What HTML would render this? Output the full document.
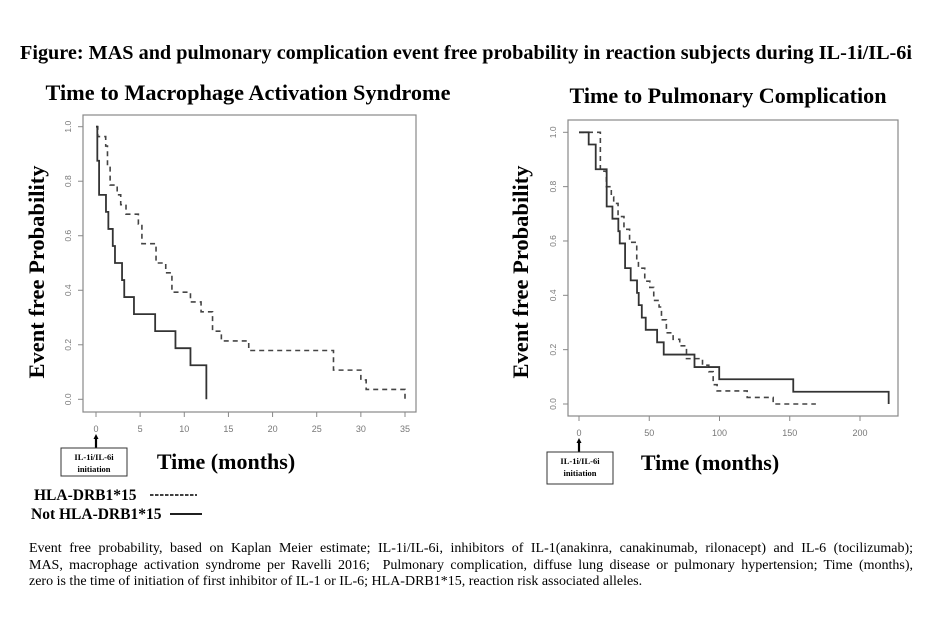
<!DOCTYPE html>
<html><head><meta charset="utf-8"><style>
body{margin:0;background:#fff;}
#wrap{position:relative;width:936px;height:630px;overflow:hidden;background:#fff;font-family:"Liberation Serif",serif;}
#caption{position:absolute;left:29px;top:541px;width:884px;font-size:14px;line-height:16.5px;color:#000;}
#caption .ln{display:block;text-align:justify;text-align-last:justify;white-space:nowrap;}
#caption .last{text-align-last:left;}
</style></head><body>
<div id="wrap">
<svg id="svg" width="936" height="630" style="position:absolute;left:0;top:0">
<text x="466" y="59" text-anchor="middle" font-family="Liberation Serif" font-weight="bold" font-size="20" textLength="892" lengthAdjust="spacingAndGlyphs">Figure: MAS and pulmonary complication event free probability in reaction subjects during IL-1i/IL-6i</text>
</svg>
<div id="caption"><span class="ln">Event free probability, based on Kaplan Meier estimate; IL-1i/IL-6i, inhibitors of IL-1(anakinra, canakinumab, rilonacept) and IL-6 (tocilizumab);</span><span class="ln">MAS, macrophage activation syndrome per Ravelli 2016;&nbsp; Pulmonary complication, diffuse lung disease or pulmonary hypertension; Time (months),</span><span class="ln last">zero is the time of initiation of first inhibitor of IL-1 or IL-6; HLA-DRB1*15, reaction risk associated alleles.</span></div>
</div>
<script>
// MAS chart data
const masSolidT = [0, 0.15, 0.35, 1.13, 1.4, 1.9, 2.15, 2.95, 3.2, 4.3, 6.7, 9.0, 10.7, 12.5];
const masSolidS = [1.0, 0.875, 0.75, 0.6875, 0.625, 0.5625, 0.5, 0.4375, 0.375, 0.3125, 0.25, 0.1875, 0.125, 0];
const masDashT = [0, 0.2, 1.1, 1.3, 1.6, 2.4, 2.8, 3.4, 4.8, 5.2, 6.8, 7.9, 8.6, 10.7, 11.9, 13.2, 14.2, 17.3, 26.9, 30.0, 30.6, 35.0];
const masDashS = [1.0, 0.964, 0.929, 0.857, 0.786, 0.75, 0.714, 0.679, 0.643, 0.571, 0.5, 0.464, 0.393, 0.357, 0.321, 0.25, 0.214, 0.179, 0.107, 0.071, 0.036, 0];
const masXTicks = [0, 5, 10, 15, 20, 25, 30, 35];
// Pulmonary chart data
const pulSolidT = [0, 6.9, 11.9, 19.7, 23.8, 28, 29, 32.8, 36.8, 41.3, 42.5, 44.7, 47.5, 55.6, 60.3, 82.2, 99.8, 152.5, 220.4];
const pulSolidS = [1.0, 0.955, 0.864, 0.727, 0.682, 0.636, 0.591, 0.5, 0.455, 0.409, 0.364, 0.318, 0.273, 0.227, 0.182, 0.136, 0.091, 0.045, 0];
const pulDashT = [0, 15.2, 19.5, 23, 24.7, 27.8, 32, 36, 41.1, 42.3, 46.8, 50.4, 53.2, 57, 58.7, 62.2, 67, 71.7, 76.5, 87.9, 92.4, 95.5, 98.3, 119.7, 138.2, 168.6];
const pulDashS = [1.0, 0.857, 0.8, 0.762, 0.738, 0.69, 0.643, 0.595, 0.524, 0.5, 0.452, 0.429, 0.381, 0.357, 0.31, 0.262, 0.238, 0.214, 0.167, 0.143, 0.119, 0.071, 0.048, 0.024, 0, 0];
const pulXTicks = [0, 50, 100, 150, 200];
const yTicks = [0.0, 0.2, 0.4, 0.6, 0.8, 1.0];

const NS = "http://www.w3.org/2000/svg";
const svg = document.getElementById('svg');
function mk(tag, attrs, parent, text){
  const e = document.createElementNS(NS, tag);
  for (const k in attrs) e.setAttribute(k, attrs[k]);
  if (text !== undefined) e.textContent = text;
  (parent || svg).appendChild(e);
  return e;
}
function stepPath(T, S, sx, sy){
  let d = 'M' + sx(T[0]) + ',' + sy(S[0]);
  for (let i = 1; i < T.length; i++){
    d += ' H' + sx(T[i]) + ' V' + sy(S[i]);
  }
  return d;
}
function drawChart(cfg){
  const g = mk('g', {});
  
  
  const sx = v => cfg.x0 + (v - cfg.xmin) / (cfg.xmax - cfg.xmin) * (cfg.x1 - cfg.x0);
  const sy = v => cfg.y0 + (1 - v) * (cfg.y1 - cfg.y0);
  const box = mk('rect', {x: cfg.bx0, y: cfg.by0, width: cfg.bx1 - cfg.bx0, height: cfg.by1 - cfg.by0, fill: 'none', stroke: '#888', 'stroke-width': 1.2}, g);
  
  
  const title = mk('text', {x: cfg.tx, y: cfg.ty, 'text-anchor': 'middle', 'font-family': 'Liberation Serif', 'font-weight': 'bold', 'font-size': 22, textLength: cfg.tw, lengthAdjust: 'spacingAndGlyphs'}, g, cfg.title);
  
  
  yTicks.forEach(v => {
    const y = sy(v);
    const t = mk('line', {x1: cfg.bx0 - 5, x2: cfg.bx0, y1: y, y2: y, stroke: '#888'}, g);
    
    
    const lx = cfg.bx0 - 12;
    const l = mk('text', {x: lx, y: y, transform: 'rotate(-90 ' + lx + ' ' + y + ')', 'text-anchor': 'middle', 'font-family': 'Liberation Sans', 'font-size': 8.5, fill: '#777'}, g, v.toFixed(1));
    
    
  });
  cfg.xt.forEach(v => {
    const x = sx(v);
    const t = mk('line', {x1: x, x2: x, y1: cfg.by1, y2: cfg.by1 + 5, stroke: '#888'}, g);
    
    
    const l = mk('text', {x: x, y: cfg.by1 + 20, 'text-anchor': 'middle', 'font-family': 'Liberation Sans', 'font-size': 9, fill: '#777'}, g, String(v));
    
    
  });
  const yl = mk('text', {x: cfg.ylx, y: cfg.yly, transform: 'rotate(-90 ' + cfg.ylx + ' ' + cfg.yly + ')', 'text-anchor': 'middle', 'font-family': 'Liberation Serif', 'font-weight': 'bold', 'font-size': 22.5}, g, cfg.ylab);
  
  
  const xl = mk('text', {x: cfg.xlx, y: cfg.xly, 'text-anchor': 'middle', 'font-family': 'Liberation Serif', 'font-weight': 'bold', 'font-size': 22}, g, 'Time (months)');
  
  
  const ds = mk('path', {d: stepPath(cfg.dT, cfg.dS, sx, sy), fill: 'none', stroke: '#444', 'stroke-width': 1.6, 'stroke-dasharray': '5,4'}, g);
  
  
  const so = mk('path', {d: stepPath(cfg.sT, cfg.sS, sx, sy), fill: 'none', stroke: '#333', 'stroke-width': 1.8}, g);
  
  
  const ax = sx(0);
  const tip = cfg.by1 + 22;
  const ar = mk('path', {d: 'M' + ax + ',' + (tip + 3) + ' V' + cfg.bxTop, stroke: '#000', 'stroke-width': 2.2, fill: 'none'}, g);
  
  
  const ah = mk('path', {d: 'M' + (ax - 2.5) + ',' + (tip + 5) + ' L' + ax + ',' + tip + ' L' + (ax + 2.5) + ',' + (tip + 5) + ' Z', fill: '#000'}, g);
  
  
  const ib = mk('rect', {x: cfg.ibx, y: cfg.bxTop, width: 66, height: cfg.ibh, fill: '#fff', stroke: '#333', 'stroke-width': 1}, g);
  
  
  const t1 = mk('text', {x: cfg.ibx + 33, y: cfg.bxTop + 12, 'text-anchor': 'middle', 'font-family': 'Liberation Serif', 'font-weight': 'bold', 'font-size': 8.5}, g, 'IL-1i/IL-6i');
  
  
  const t2 = mk('text', {x: cfg.ibx + 33, y: cfg.bxTop + 24, 'text-anchor': 'middle', 'font-family': 'Liberation Serif', 'font-weight': 'bold', 'font-size': 8.5}, g, 'initiation');
  
  
}
drawChart({name: 'mas-chart', title: 'Time to Macrophage Activation Syndrome', tx: 248, ty: 100, tw: 405,
  bx0: 83, bx1: 416, by0: 115, by1: 412, x0: 96, x1: 405, xmin: 0, xmax: 35, y0: 126.7, y1: 399.3,
  xt: masXTicks, sT: masSolidT, sS: masSolidS, dT: masDashT, dS: masDashS,
  ylab: 'Event free  Probability', ylx: 44, yly: 272, xlx: 226, xly: 469, ibx: 61, bxTop: 448, ibh: 28});
drawChart({name: 'pulmonary-chart', title: 'Time to Pulmonary Complication', tx: 728, ty: 103, tw: 317,
  bx0: 568, bx1: 898, by0: 120, by1: 416, x0: 579, x1: 860, xmin: 0, xmax: 200, y0: 132.3, y1: 404,
  xt: pulXTicks, sT: pulSolidT, sS: pulSolidS, dT: pulDashT, dS: pulDashS,
  ylab: 'Event free Probability', ylx: 528, yly: 272, xlx: 710, xly: 470, ibx: 547, bxTop: 452, ibh: 32});
const l1 = mk('text', {x: 34, y: 500, 'font-family': 'Liberation Serif', 'font-weight': 'bold', 'font-size': 15.5}, svg, 'HLA-DRB1*15');


const ld = mk('line', {x1: 150, x2: 197, y1: 495, y2: 495, stroke: '#000', 'stroke-width': 1.5, 'stroke-dasharray': '3.5,1.5'});


const l2 = mk('text', {x: 31, y: 519, 'font-family': 'Liberation Serif', 'font-weight': 'bold', 'font-size': 15.5}, svg, 'Not HLA-DRB1*15');


const ls = mk('line', {x1: 170, x2: 202, y1: 514, y2: 514, stroke: '#000', 'stroke-width': 1.8});


</script>
</body></html>
